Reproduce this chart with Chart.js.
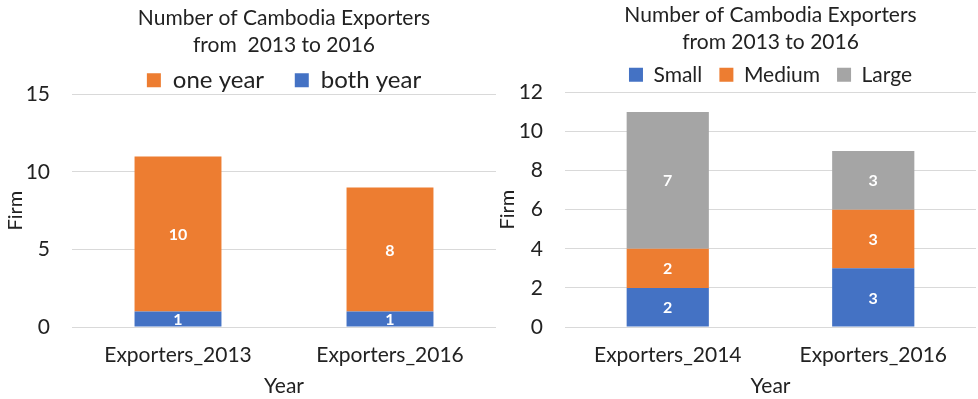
<!DOCTYPE html>
<html>
<head>
<meta charset="utf-8">
<script src="https://cdn.jsdelivr.net/npm/chart.js@4/dist/chart.umd.min.js"></script>
<style>
  body { margin: 0; background: #fff; }
  .box { position: absolute; top: 0; height: 399px; }
</style>
</head>
<body>
<div class="box" style="left:0;width:498px"><canvas id="left"></canvas></div>
<div class="box" style="left:492px;width:486px"><canvas id="right"></canvas></div>
<script>
// data for the left chart
var leftLabels = ['Exporters_2013', 'Exporters_2016'];
var bothYear = [1, 1];
var oneYear = [10, 8];

// data for the right chart
var rightLabels = ['Exporters_2014', 'Exporters_2016'];
var small = [2, 3];
var medium = [2, 3];
var large = [7, 3];

var FONT = 'Lato';
var ORANGE = '#ED7D31', BLUE = '#4472C4', GRAY = '#A5A5A5';

// write the values in white in the middle of each bar
var barLabels = {
    id: 'barLabels',
    afterDatasetsDraw: function (chart) {
        var ctx = chart.ctx;
        ctx.save();
        ctx.fillStyle = '#fff';
        ctx.font = 'bold 16px ' + FONT;
        ctx.textAlign = 'center';
        ctx.textBaseline = 'middle';
        chart.data.datasets.forEach(function (ds, i) {
            chart.getDatasetMeta(i).data.forEach(function (bar, j) {
                var mid = (bar.y + bar.base) / 2;
                ctx.fillText(ds.data[j], bar.x, mid + 1);
            });
        });
        ctx.restore();
    }
};

function makeChart(id, labels, datasets, o) {
    return new Chart(document.getElementById(id), {
        type: 'bar',
        data: { labels: labels, datasets: datasets },
        plugins: [barLabels],
        options: {
            responsive: true,
            maintainAspectRatio: false,
            animation: false,
            layout: { padding: { left: 0, right: 2, top: o.top, bottom: 2 } },
            plugins: {
                title: {
                    display: true,
                    fullSize: false,
                    text: o.title,
                    color: '#222',
                    font: { family: FONT, size: 21, weight: 'normal', lineHeight: 1.27 },
                    padding: { top: 0, bottom: o.titleGap }
                },
                legend: {
                    fullSize: false,
                    reverse: o.reverse,
                    maxHeight: o.legendHeight,
                    labels: {
                        color: '#222',
                        font: { family: FONT, size: o.legendSize },
                        boxWidth: 14,
                        boxHeight: 14,
                        padding: o.legendPad,
                        // extra spaces widen the gap between legend items
                        generateLabels: function (chart) {
                            var items = Chart.defaults.plugins.legend.labels.generateLabels(chart);
                            var n = items.length;
                            items.forEach(function (it, k) {
                                var last = o.reverse ? k === 0 : k === n - 1;
                                if (!last) it.text = it.text + o.spaces;
                            });
                            return items;
                        }
                    }
                },
                tooltip: { enabled: false }
            },
            scales: {
                x: {
                    stacked: true,
                    grid: { display: false },
                    border: { display: false },
                    ticks: { color: '#222', font: { family: FONT, size: 21, lineHeight: 1.0 }, padding: 10 },
                    title: { display: true, text: 'Year', color: '#222', font: { family: FONT, size: 21, lineHeight: 1.0 }, padding: 0 }
                },
                y: {
                    stacked: true,
                    min: 0,
                    max: o.yMax,
                    ticks: { stepSize: o.yStep, color: '#222', font: { family: FONT, size: 21 }, padding: 22 },
                    grid: { color: '#d9d9d9', drawTicks: false },
                    border: { display: false },
                    title: { display: true, text: 'Firm', color: '#222', font: { family: FONT, size: 20 } },
                    afterFit: function (scale) { scale.width = o.yWidth; }
                }
            }
        }
    });
}

makeChart('left', leftLabels, [
    { label: 'both year', data: bothYear, backgroundColor: BLUE, barPercentage: 0.82, categoryPercentage: 0.5 },
    { label: 'one year', data: oneYear, backgroundColor: ORANGE, barPercentage: 0.82, categoryPercentage: 0.5 }
], {
    title: ['Number of Cambodia Exporters', 'from  2013 to 2016'],
    yMax: 15, yStep: 5, legendSize: 24, yWidth: 72, reverse: true,
    top: 5, titleGap: 10, legendPad: 0, legendHeight: 26, spaces: '     '
});

makeChart('right', rightLabels, [
    { label: 'Small', data: small, backgroundColor: BLUE, barPercentage: 0.8, categoryPercentage: 0.5 },
    { label: 'Medium', data: medium, backgroundColor: ORANGE, barPercentage: 0.8, categoryPercentage: 0.5 },
    { label: 'Large', data: large, backgroundColor: GRAY, barPercentage: 0.8, categoryPercentage: 0.5 }
], {
    title: ['Number of Cambodia Exporters', 'from 2013 to 2016'],
    yMax: 12, yStep: 2, legendSize: 21, yWidth: 73, reverse: false,
    top: 2, titleGap: 8, legendPad: 1, legendHeight: 29, spaces: '   '
});
</script>
</body>
</html>
